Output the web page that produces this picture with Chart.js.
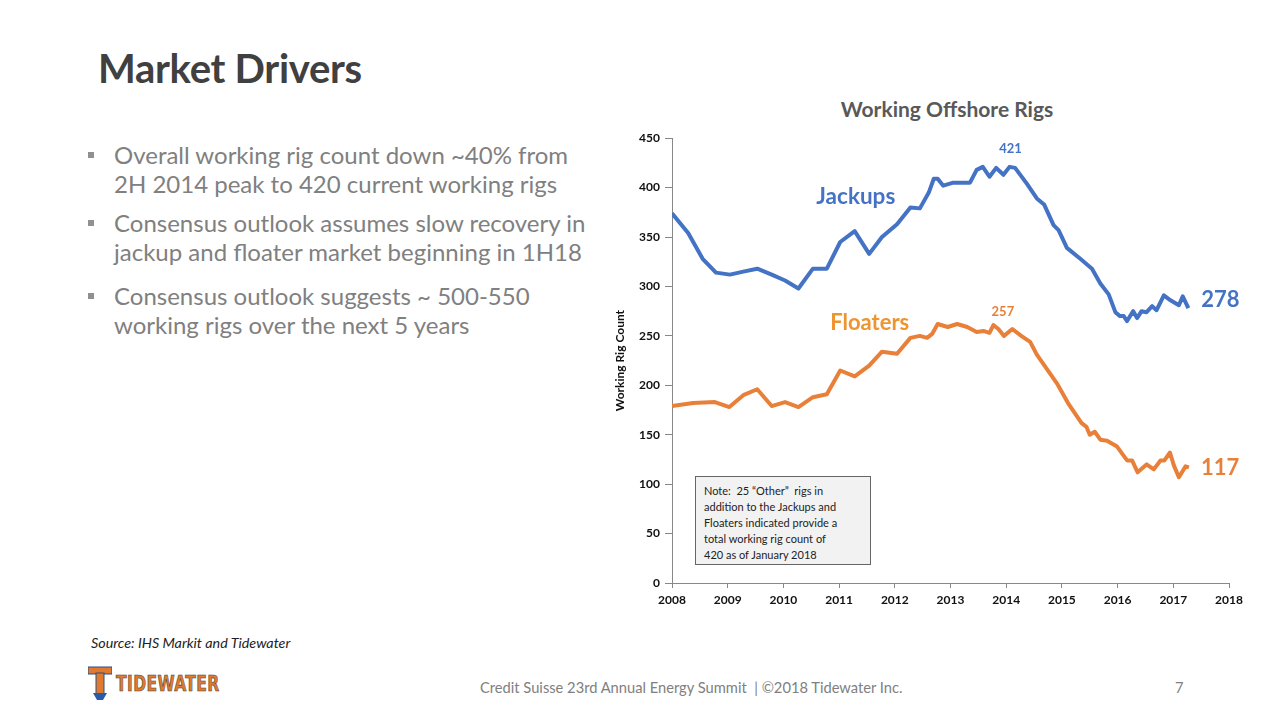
<!DOCTYPE html>
<html>
<head>
<meta charset="utf-8">
<script src="https://cdn.jsdelivr.net/npm/chart.js@4"></script>
<style>
  body { margin:0; width:1280px; height:720px; background:#fff; position:relative; overflow:hidden; font-family:Lato, "Open Sans", sans-serif; }
  .title { position:absolute; left:98px; top:44px; font-size:40px; font-weight:bold; color:#404040; letter-spacing:-0.3px; }
  .bullets { position:absolute; left:86px; top:140px; width:560px; color:#808080; font-size:24px; line-height:29px; white-space:nowrap; }
  .bullets div { position:absolute; left:0; padding-left:28px; }
  .bullets div:before { content:""; position:absolute; left:2px; top:12px; width:6px; height:6px; background:#909090; }
  .charttitle { position:absolute; left:797px; width:300px; text-align:center; top:96px; font-size:21px; font-weight:bold; color:#595959; }
  .note { position:absolute; left:695px; top:476px; width:158px; height:75px; padding:6px 8px; background:#f2f2f2; border:1px solid #666; font-size:11px; line-height:16px; color:#222; white-space:nowrap; }
  .source { position:absolute; left:91px; top:634px; font-size:14.3px; font-style:italic; color:#222; }
  .footer { position:absolute; left:480px; top:678px; font-size:14.7px; color:#808080; }
  .pagenum { position:absolute; left:1175px; top:678px; font-size:14.7px; color:#808080; }
  .logo { position:absolute; left:88px; top:665px; height:36px; }
  .logo .t { position:absolute; left:0; top:0; width:24px; height:36px; }
  .logo .word { position:absolute; left:28px; top:7px; font-size:21px; font-weight:900; color:#E07A2E; letter-spacing:0.5px; font-family:"DejaVu Sans Condensed", "DejaVu Sans", sans-serif; -webkit-text-stroke:0.6px #4a3a30; transform:scaleX(0.82); transform-origin:left; }
  #wrap { position:absolute; left:608px; top:126px; width:640px; height:484px; }
</style>
</head>
<body>
<div class="title">Market Drivers</div>
<div class="bullets">
  <div style="top:0px">Overall working rig count down ~40% from<br>2H 2014 peak to 420 current working rigs</div>
  <div style="top:68px">Consensus outlook assumes slow recovery in<br>jackup and floater market beginning in 1H18</div>
  <div style="top:141px">Consensus outlook suggests ~ 500-550<br>working rigs over the next 5 years</div>
</div>
<div class="charttitle">Working Offshore Rigs</div>
<div id="wrap"><canvas id="rigChart"></canvas></div>
<div class="note">Note:&nbsp; 25 “Other”&nbsp; rigs in<br>addition to the Jackups and<br>Floaters indicated provide a<br>total working rig count of<br>420 as of January 2018</div>
<div class="source">Source: IHS Markit and Tidewater</div>
<div class="logo">
  <svg class="t" viewBox="0 0 24 36">
    <rect x="0" y="2" width="24" height="7" fill="#E07A2E" stroke="#2a4f8a" stroke-width="1"/>
    <rect x="8" y="8" width="8" height="22" fill="#E07A2E" stroke="#2a4f8a" stroke-width="1"/>
    <path d="M5 28 L19 28 L15 35 L9 35 Z" fill="#2a5ba8"/>
  </svg>
  <div class="word">TIDEWATER</div>
</div>
<div class="footer">Credit Suisse 23rd Annual Energy Summit&nbsp; | ©2018 Tidewater Inc.</div>
<div class="pagenum">7</div>

<script>
// values
const jackupYears = [2008.0, 2008.29, 2008.55, 2008.79, 2009.04, 2009.28, 2009.53, 2009.79, 2010.03, 2010.27,
  2010.53, 2010.78, 2011.02, 2011.28, 2011.54, 2011.77, 2012.04, 2012.28, 2012.45, 2012.61,
  2012.70, 2012.77, 2012.87, 2013.05, 2013.35, 2013.47, 2013.58, 2013.70, 2013.82, 2013.95,
  2014.06, 2014.16, 2014.37, 2014.55, 2014.68, 2014.85, 2014.94, 2015.09, 2015.33, 2015.54,
  2015.69, 2015.84, 2015.96, 2016.04, 2016.11, 2016.17, 2016.28, 2016.35, 2016.43, 2016.52,
  2016.62, 2016.70, 2016.83, 2016.95, 2017.10, 2017.17, 2017.27];
const jackupCounts = [374, 354, 328, 314, 312, 315, 318, 312, 306, 298,
  318, 318, 345, 356, 333, 350, 363, 380, 379, 395,
  409, 409, 402, 405, 405, 418, 421, 411, 420, 413,
  421, 420, 404, 389, 383, 362, 357, 339, 328, 318,
  303, 292, 274, 270, 270, 265, 275, 268, 275, 274,
  280, 276, 291, 286, 281, 290, 278];

const floaterYears = [2008.0, 2008.38, 2008.77, 2009.03, 2009.28, 2009.53, 2009.79, 2010.03, 2010.27, 2010.53,
  2010.78, 2011.02, 2011.28, 2011.54, 2011.77, 2012.04, 2012.28, 2012.45, 2012.58, 2012.67,
  2012.77, 2012.95, 2013.12, 2013.30, 2013.47, 2013.59, 2013.70, 2013.77, 2013.86, 2013.96,
  2014.11, 2014.27, 2014.43, 2014.55, 2014.91, 2015.11, 2015.35, 2015.44, 2015.50, 2015.59,
  2015.69, 2015.81, 2015.99, 2016.17, 2016.26, 2016.36, 2016.52, 2016.65, 2016.77, 2016.84,
  2016.94, 2017.01, 2017.10, 2017.22, 2017.28];
const floaterCounts = [179, 182, 183, 178, 190, 196, 179, 183, 178, 188,
  191, 215, 209, 220, 234, 232, 248, 250, 248, 252,
  262, 259, 262, 259, 254, 255, 253, 261, 257, 250,
  257, 250, 244, 231, 202, 182, 162, 158, 150, 153,
  145, 144, 138, 124, 124, 112, 120, 115, 124, 124,
  132, 119, 107, 118, 117];

const yearTicks = [2008, 2009, 2010, 2011, 2012, 2013, 2014, 2015, 2016, 2017, 2018];
const countTicks = [0, 50, 100, 150, 200, 250, 300, 350, 400, 450];

const BLUE = '#4472C4';
const ORANGE = '#E8803A';

function toPoints(xs, ys)
{
  return xs.map(function (x, i) { return { x: x, y: ys[i] }; });
}

// text labels on the plot (series names, peak and latest values)
const seriesLabels = {
  id: 'seriesLabels',
  afterDatasetsDraw(chart) {
    const ctx = chart.ctx;
    const xs = chart.scales.x, ys = chart.scales.y;
    function put(text, xv, yv, font, color, dx, dy, align) {
      ctx.save();
      ctx.font = font;
      ctx.fillStyle = color;
      ctx.textAlign = align || 'center';
      ctx.textBaseline = 'middle';
      ctx.fillText(text, xs.getPixelForValue(xv) + (dx || 0), ys.getPixelForValue(yv) + (dy || 0));
      ctx.restore();
    }
    const jMax = Math.max.apply(null, jackupCounts);
    const jMaxYear = jackupYears[jackupCounts.lastIndexOf(jMax)];
    const jLast = jackupCounts.length - 1, fLast = floaterCounts.length - 1;

    put('Jackups', 2011.3, 391, 'bold 22.5px Lato', BLUE);
    put('Floaters', 2011.55, 263, 'bold 22px Lato', '#EE9530');
    put(String(jMax), jMaxYear, jMax, 'bold 13px Lato', BLUE, 1, -18);
    put('257', 2013.94, 257, 'bold 13px Lato', ORANGE, 0, -17);
    put(String(jackupCounts[jLast]), jackupYears[jLast], jackupCounts[jLast], 'bold 22px Lato', BLUE, 13, -8, 'left');
    put(String(floaterCounts[fLast]), floaterYears[fLast], floaterCounts[fLast], 'bold 22px Lato', ORANGE, 12, 1, 'left');
  }
};

new Chart(document.getElementById('rigChart'), {
  type: 'line',
  data: {
    datasets: [
      {
        label: 'Jackups',
        data: toPoints(jackupYears, jackupCounts),
        borderColor: BLUE,
        borderWidth: 4,
        pointRadius: 0,
        tension: 0,
        borderJoinStyle: 'round'
      },
      {
        label: 'Floaters',
        data: toPoints(floaterYears, floaterCounts),
        borderColor: ORANGE,
        borderWidth: 4,
        pointRadius: 0,
        tension: 0,
        borderJoinStyle: 'round'
      }
    ]
  },
  options: {
    responsive: true,
    maintainAspectRatio: false,
    animation: false,
    layout: { padding: { top: 8, right: 19, bottom: 0, left: 0 } },
    plugins: {
      legend: { display: false },
      tooltip: { enabled: false }
    },
    scales: {
      x: {
        type: 'linear',
        min: yearTicks[0],
        max: yearTicks[yearTicks.length - 1],
        afterBuildTicks: function (scale) { scale.ticks = yearTicks.map(function (v) { return { value: v }; }); },
        afterFit: function (scale) { scale.height = 27; },
        ticks: {
          callback: function (v) { return String(v); },
          font: { family: 'Lato', size: 12, weight: 'bold' },
          color: '#111',
          padding: 5,
          maxRotation: 0
        },
        grid: { drawOnChartArea: false, tickLength: 5, color: '#888' },
        border: { color: '#888', width: 1 }
      },
      y: {
        min: countTicks[0],
        max: countTicks[countTicks.length - 1],
        afterBuildTicks: function (scale) { scale.ticks = countTicks.map(function (v) { return { value: v }; }); },
        afterFit: function (scale) { scale.width = 64; },
        ticks: {
          font: { family: 'Lato', size: 12, weight: 'bold' },
          color: '#111',
          padding: 5
        },
        title: {
          display: true,
          text: 'Working Rig Count',
          font: { family: 'Lato', size: 12, weight: 'bold' },
          color: '#111',
          padding: { top: 5, bottom: 0 }
        },
        grid: { drawOnChartArea: false, tickLength: 7, color: '#888' },
        border: { color: '#888', width: 1 }
      }
    }
  },
  plugins: [seriesLabels]
});
</script>
</body>
</html>
